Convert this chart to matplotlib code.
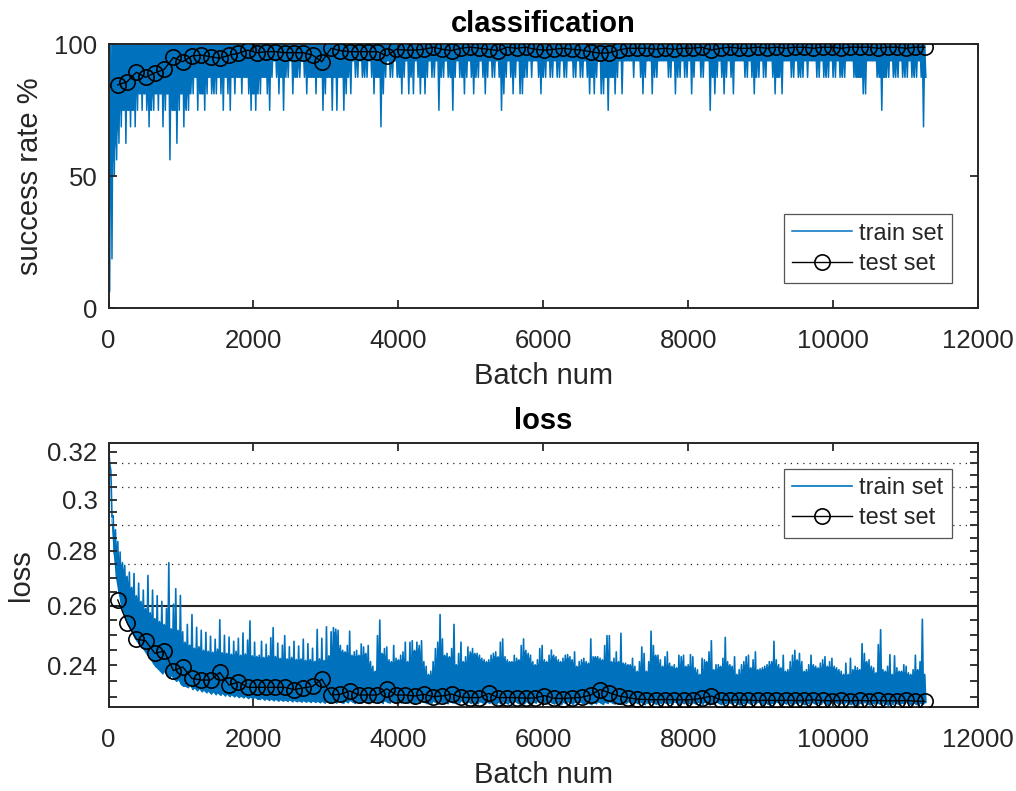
import numpy as np
import matplotlib
matplotlib.use('Agg')
import matplotlib.pyplot as plt
from matplotlib.ticker import FixedLocator, NullFormatter
from numpy.lib.stride_tricks import sliding_window_view

plt.rcParams['font.family'] = ['Liberation Sans', 'DejaVu Sans']

BLUE = '#0072BD'
AXC = '#262626'

# ---- data ----
# train set: per 32-batch bin, the high and the low point of the noisy curve
train_batch = np.arange(0, 11265, 32)

train_acc_high = [50.0] + [100.0] * 352
train_acc_low = [
    6.25, 18.75, 50, 56.25, 62.5, 68.75, 75, 62.5, 75, 68.75, 75, 68.75, 75, 81.25, 75, 81.25,
    75, 68.75, 75, 75, 81.25, 75, 81.25, 68.75, 75, 81.25, 56.25, 75, 75, 62.5, 75, 81.25, 68.75,
    75, 75, 81.25, 81.25, 87.5, 75, 81.25, 81.25, 75, 81.25, 87.5, 81.25, 81.25, 81.25, 87.5, 81.25,
    75, 87.5, 81.25, 75, 87.5, 81.25, 87.5, 87.5, 81.25, 87.5, 87.5, 81.25, 75, 81.25, 75, 81.25,
    81.25, 87.5, 87.5, 81.25, 75, 87.5, 93.75, 87.5, 81.25, 87.5, 75, 87.5, 87.5, 93.75, 81.25, 87.5,
    87.5, 87.5, 93.75, 87.5, 81.25, 87.5, 87.5, 87.5, 81.25, 87.5, 87.5, 75, 81.25, 87.5, 87.5, 75,
    87.5, 75, 87.5, 87.5, 75, 81.25, 87.5, 81.25, 93.75, 87.5, 87.5, 93.75, 87.5, 87.5, 87.5, 93.75,
    87.5, 81.25, 87.5, 87.5, 68.75, 81.25, 87.5, 93.75, 87.5, 87.5, 93.75, 87.5, 87.5, 81.25, 87.5, 93.75,
    81.25, 87.5, 81.25, 93.75, 87.5, 81.25, 87.5, 81.25, 87.5, 93.75, 87.5, 87.5, 93.75, 75, 87.5, 87.5,
    93.75, 87.5, 87.5, 75, 87.5, 93.75, 87.5, 87.5, 81.25, 87.5, 93.75, 87.5, 81.25, 87.5, 87.5, 93.75,
    87.5, 81.25, 87.5, 93.75, 87.5, 87.5, 93.75, 87.5, 75, 81.25, 87.5, 93.75, 87.5, 81.25, 87.5, 93.75,
    81.25, 81.25, 87.5, 87.5, 93.75, 87.5, 93.75, 93.75, 87.5, 81.25, 87.5, 87.5, 93.75, 87.5, 87.5, 93.75,
    87.5, 87.5, 93.75, 87.5, 87.5, 93.75, 93.75, 87.5, 87.5, 93.75, 87.5, 87.5, 93.75, 87.5, 81.25, 87.5,
    81.25, 87.5, 93.75, 81.25, 81.25, 87.5, 75, 87.5, 87.5, 81.25, 87.5, 93.75, 81.25, 93.75, 93.75, 93.75,
    93.75, 87.5, 93.75, 93.75, 87.5, 81.25, 87.5, 93.75, 93.75, 81.25, 87.5, 87.5, 93.75, 93.75, 93.75, 93.75,
    87.5, 87.5, 93.75, 81.25, 87.5, 87.5, 93.75, 87.5, 87.5, 93.75, 81.25, 87.5, 93.75, 93.75, 87.5, 87.5,
    93.75, 93.75, 75, 87.5, 81.25, 87.5, 93.75, 87.5, 81.25, 87.5, 93.75, 87.5, 81.25, 93.75, 93.75, 93.75,
    93.75, 87.5, 87.5, 93.75, 87.5, 81.25, 87.5, 87.5, 93.75, 87.5, 87.5, 93.75, 93.75, 87.5, 81.25, 87.5,
    87.5, 81.25, 93.75, 93.75, 93.75, 87.5, 87.5, 93.75, 87.5, 87.5, 87.5, 93.75, 87.5, 93.75, 93.75, 93.75,
    87.5, 87.5, 93.75, 87.5, 87.5, 87.5, 93.75, 87.5, 87.5, 93.75, 87.5, 87.5, 87.5, 93.75, 93.75, 93.75,
    87.5, 87.5, 87.5, 87.5, 81.25, 81.25, 93.75, 93.75, 93.75, 93.75, 87.5, 87.5, 75, 87.5, 87.5, 87.5,
    93.75, 87.5, 87.5, 87.5, 93.75, 87.5, 87.5, 87.5, 93.75, 87.5, 87.5, 87.5, 93.75, 87.5, 68.75, 87.5,
]

train_loss_high = [
    0.3239, 0.3120, 0.2935, 0.2880, 0.2835, 0.2795, 0.2755, 0.2745, 0.2705, 0.2720, 0.2665,
    0.2715, 0.2635, 0.2680, 0.2615, 0.2655, 0.2590, 0.2708, 0.2575, 0.2655, 0.2555, 0.2635,
    0.2545, 0.2615, 0.2535, 0.2590, 0.2755, 0.2520, 0.2605, 0.2660, 0.2515, 0.2636, 0.2510,
    0.2475, 0.2535, 0.2465, 0.2569, 0.2455, 0.2525, 0.2460, 0.2515, 0.2448, 0.2508, 0.2445, 0.2495,
    0.2442, 0.2485, 0.2452, 0.2551, 0.2440, 0.2498, 0.2438, 0.2492, 0.2435, 0.2478, 0.2445, 0.2488,
    0.2432, 0.2506, 0.2436, 0.2482, 0.2547, 0.2430, 0.2475, 0.2428,
    0.2432, 0.2478, 0.2425, 0.2468, 0.2430, 0.2490, 0.2524, 0.2428, 0.2472, 0.2422, 0.2465, 0.2497,
    0.2420, 0.2460, 0.2425, 0.2478, 0.2418, 0.2462, 0.2420, 0.2485, 0.2415, 0.2470, 0.2418, 0.2455,
    0.2412, 0.2518, 0.2420, 0.2488, 0.2415, 0.2527, 0.2430, 0.2510,
    0.2524, 0.2519, 0.2515, 0.2464, 0.2448, 0.2443, 0.2464, 0.2512, 0.2432, 0.2443, 0.2448, 0.2432,
    0.2469, 0.2459, 0.2438, 0.2464, 0.2411, 0.2396, 0.2380, 0.2497, 0.2550, 0.2438, 0.2454, 0.2459,
    0.2417, 0.2411, 0.2464, 0.2422, 0.2417, 0.2432, 0.2443, 0.2475,
    0.2411, 0.2475, 0.2480, 0.2448, 0.2475, 0.2464, 0.2480, 0.2411, 0.2396, 0.2370, 0.2380, 0.2411,
    0.2454, 0.2475, 0.2569, 0.2486, 0.2432, 0.2438, 0.2427, 0.2454, 0.2535, 0.2401, 0.2438, 0.2475,
    0.2411, 0.2427, 0.2459, 0.2443, 0.2454, 0.2438, 0.2438, 0.2432,
    0.2422, 0.2417, 0.2411, 0.2417, 0.2432, 0.2438, 0.2443, 0.2427, 0.2475, 0.2486, 0.2427, 0.2417,
    0.2411, 0.2411, 0.2432, 0.2422, 0.2417, 0.2464, 0.2486, 0.2448, 0.2438, 0.2432, 0.2411, 0.2401,
    0.2417, 0.2454, 0.2464, 0.2417, 0.2411, 0.2432, 0.2449, 0.2432,
    0.2427, 0.2417, 0.2411, 0.2422, 0.2432, 0.2434, 0.2427, 0.2417, 0.2443, 0.2396, 0.2411, 0.2417,
    0.2422, 0.2411, 0.2406, 0.2486, 0.2427, 0.2427, 0.2427, 0.2422, 0.2417, 0.2464, 0.2497, 0.2497,
    0.2411, 0.2422, 0.2443, 0.2411, 0.2505, 0.2406, 0.2406, 0.2401,
    0.2401, 0.2422, 0.2396, 0.2380, 0.2411, 0.2459, 0.2438, 0.2380, 0.2411, 0.2512, 0.2464, 0.2432,
    0.2432, 0.2417, 0.2396, 0.2427, 0.2443, 0.2406, 0.2396, 0.2401, 0.2391, 0.2432, 0.2427, 0.2432,
    0.2396, 0.2401, 0.2434, 0.2427, 0.2391, 0.2385, 0.2370, 0.2422,
    0.2417, 0.2411, 0.2443, 0.2480, 0.2385, 0.2401, 0.2401, 0.2396, 0.2422, 0.2491, 0.2411, 0.2401,
    0.2396, 0.2427, 0.2370, 0.2385, 0.2401, 0.2411, 0.2427, 0.2432, 0.2391, 0.2417, 0.2443, 0.2385,
    0.2388, 0.2391, 0.2396, 0.2401, 0.2411, 0.2411, 0.2478, 0.2417,
    0.2401, 0.2391, 0.2432, 0.2380, 0.2385, 0.2411, 0.2432, 0.2448, 0.2417, 0.2438, 0.2411, 0.2380,
    0.2385, 0.2401, 0.2432, 0.2401, 0.2396, 0.2391, 0.2406, 0.2417, 0.2427, 0.2396, 0.2411, 0.2422,
    0.2396, 0.2391, 0.2385, 0.2380, 0.2370, 0.2406, 0.2370, 0.2422,
    0.2385, 0.2396, 0.2391, 0.2385, 0.2470, 0.2438, 0.2411, 0.2417, 0.2396, 0.2391, 0.2375, 0.2467,
    0.2517, 0.2385, 0.2380, 0.2396, 0.2434, 0.2370, 0.2430, 0.2391, 0.2380, 0.2380, 0.2401, 0.2396,
    0.2375, 0.2370, 0.2385, 0.2432, 0.2385, 0.2411, 0.2553, 0.2370,
]

train_loss_low = [
    0.3150, 0.2930, 0.2790, 0.2700, 0.2650, 0.2610, 0.2580, 0.2555, 0.2535, 0.2520, 0.2505,
    0.2490, 0.2478, 0.2468, 0.2458, 0.2450, 0.2438, 0.2428, 0.2418, 0.2405, 0.2395, 0.2388,
    0.2380, 0.2372, 0.2378, 0.2366, 0.2360, 0.2365, 0.2355, 0.2348, 0.2352, 0.2338, 0.2332,
    0.2332, 0.2328, 0.2335, 0.2322, 0.2326, 0.2318, 0.2324, 0.2315, 0.2319, 0.2312, 0.2316, 0.2308,
    0.2314, 0.2306, 0.2311, 0.2304, 0.2309, 0.2302, 0.2307, 0.2300, 0.2305, 0.2299, 0.2303, 0.2297,
    0.2301, 0.2296, 0.2300, 0.2294, 0.2298, 0.2293, 0.2297, 0.2292,
    0.2291, 0.2295, 0.2289, 0.2293, 0.2288, 0.2292, 0.2287, 0.2291, 0.2286, 0.2290, 0.2286, 0.2289,
    0.2285, 0.2289, 0.2284, 0.2288, 0.2284, 0.2287, 0.2283, 0.2287, 0.2283, 0.2286, 0.2282, 0.2286,
    0.2282, 0.2285, 0.2281, 0.2285, 0.2280, 0.2284, 0.2280, 0.2283,
    0.2284, 0.2280, 0.2287, 0.2282, 0.2279, 0.2285, 0.2281, 0.2288, 0.2283, 0.2279, 0.2286, 0.2282,
    0.2280, 0.2287, 0.2283, 0.2278, 0.2285, 0.2281, 0.2286, 0.2280, 0.2284, 0.2279, 0.2287, 0.2282,
    0.2280, 0.2285, 0.2281, 0.2278, 0.2284, 0.2280, 0.2286, 0.2282,
    0.2279, 0.2285, 0.2281, 0.2277, 0.2284, 0.2280, 0.2286, 0.2282, 0.2278, 0.2283, 0.2279, 0.2285,
    0.2281, 0.2277, 0.2284, 0.2280, 0.2283, 0.2278, 0.2285, 0.2281, 0.2279, 0.2284, 0.2280, 0.2286,
    0.2281, 0.2277, 0.2283, 0.2279, 0.2285, 0.2280, 0.2278, 0.2284,
    0.2281, 0.2277, 0.2283, 0.2279, 0.2285, 0.2280, 0.2276, 0.2282, 0.2278, 0.2284, 0.2280, 0.2277,
    0.2283, 0.2279, 0.2285, 0.2281, 0.2277, 0.2282, 0.2278, 0.2284, 0.2279, 0.2276, 0.2283, 0.2280,
    0.2285, 0.2281, 0.2277, 0.2282, 0.2278, 0.2284, 0.2280, 0.2277,
    0.2283, 0.2279, 0.2275, 0.2282, 0.2278, 0.2284, 0.2280, 0.2276, 0.2282, 0.2279, 0.2284, 0.2280,
    0.2277, 0.2283, 0.2279, 0.2275, 0.2281, 0.2278, 0.2284, 0.2280, 0.2276, 0.2282, 0.2279, 0.2284,
    0.2280, 0.2277, 0.2283, 0.2278, 0.2275, 0.2281, 0.2279, 0.2284,
    0.2280, 0.2276, 0.2282, 0.2278, 0.2284, 0.2279, 0.2275, 0.2281, 0.2277, 0.2283, 0.2279, 0.2276,
    0.2282, 0.2278, 0.2284, 0.2280, 0.2276, 0.2281, 0.2277, 0.2283, 0.2279, 0.2275, 0.2282, 0.2278,
    0.2284, 0.2280, 0.2276, 0.2281, 0.2277, 0.2283, 0.2279, 0.2276,
    0.2282, 0.2278, 0.2274, 0.2281, 0.2277, 0.2283, 0.2279, 0.2275, 0.2281, 0.2278, 0.2283, 0.2279,
    0.2276, 0.2282, 0.2278, 0.2274, 0.2280, 0.2277, 0.2283, 0.2279, 0.2275, 0.2281, 0.2278, 0.2283,
    0.2279, 0.2276, 0.2282, 0.2277, 0.2274, 0.2280, 0.2278, 0.2283,
    0.2279, 0.2275, 0.2281, 0.2277, 0.2283, 0.2278, 0.2274, 0.2280, 0.2276, 0.2282, 0.2278, 0.2275,
    0.2281, 0.2277, 0.2283, 0.2279, 0.2275, 0.2280, 0.2276, 0.2282, 0.2278, 0.2274, 0.2281, 0.2277,
    0.2283, 0.2279, 0.2275, 0.2280, 0.2276, 0.2282, 0.2278, 0.2275,
    0.2281, 0.2277, 0.2273, 0.2280, 0.2276, 0.2282, 0.2278, 0.2274, 0.2280, 0.2277, 0.2282, 0.2278,
    0.2275, 0.2281, 0.2277, 0.2273, 0.2279, 0.2276, 0.2282, 0.2278, 0.2274, 0.2280, 0.2277, 0.2282,
    0.2278, 0.2275, 0.2281, 0.2276, 0.2273, 0.2279, 0.2277, 0.2282,
]

# test set: evaluated every 128 batches
test_batch = np.arange(128, 11265, 128)
test_acc = [
    84.6, 85.8, 89.4, 87.5, 89.2, 90.5, 95.0, 93.4, 95.6, 95.9, 95.3, 94.7, 95.9, 96.6, 97.8, 96.8,
    97.2, 97.2, 96.8, 96.8, 96.8, 95.9, 93.4, 98.5, 97.6, 97.2, 97.2, 97.2, 97.2, 95.6, 98.1, 97.8,
    97.8, 98.1, 98.9, 98.1, 97.6, 98.5, 98.9, 98.5, 98.1, 97.6, 98.9, 98.5, 98.9, 98.1, 97.8, 98.1,
    98.5, 98.1, 97.8, 97.2, 96.6, 96.8, 97.8, 98.5, 98.5, 98.5, 98.1, 98.5, 98.1, 98.5, 98.5, 98.9,
    97.8, 98.5, 98.9, 98.5, 98.5, 98.9, 98.5, 98.9, 98.5, 98.9, 98.9, 98.5, 98.9, 98.9, 98.5, 98.9,
    98.9, 98.9, 98.5, 98.9, 98.9, 98.5, 98.9, 98.9,
]
test_loss = [
    0.2620, 0.2541, 0.2485, 0.2480, 0.2438, 0.2446, 0.2382, 0.2394, 0.2357, 0.2352, 0.2352,
    0.2376, 0.2336, 0.2346, 0.2329, 0.2329, 0.2329, 0.2329, 0.2329, 0.2322, 0.2327, 0.2332,
    0.2355, 0.2305, 0.2307, 0.2318, 0.2305, 0.2305, 0.2305, 0.2325, 0.2305, 0.2305, 0.2302,
    0.2307, 0.2300, 0.2302, 0.2308, 0.2298, 0.2297, 0.2297, 0.2310, 0.2297, 0.2297, 0.2297,
    0.2295, 0.2296, 0.2303, 0.2295, 0.2294, 0.2296, 0.2298, 0.2305, 0.2322, 0.2312, 0.2302,
    0.2297, 0.2292, 0.2291, 0.2290, 0.2291, 0.2290, 0.2290, 0.2291, 0.2295, 0.2302, 0.2290,
    0.2289, 0.2290, 0.2289, 0.2288, 0.2289, 0.2288, 0.2289, 0.2288, 0.2288, 0.2290, 0.2288,
    0.2287, 0.2288, 0.2287, 0.2288, 0.2287, 0.2288, 0.2287, 0.2287, 0.2288, 0.2286, 0.2285,
]

loss_ticks = [0.24, 0.26, 0.28, 0.30, 0.32]
loss_tick_labels = ['0.24', '0.26', '0.28', '0.3', '0.32']
loss_dotted = [0.315, 0.305, 0.29, 0.275]
loss_solid = 0.26

# the noisy train curve: up to the bin high, down to the bin low, half a bin later
zig_x = np.column_stack([train_batch, train_batch + 16]).ravel()
acc_zig = np.column_stack([train_acc_high, train_acc_low]).ravel()
loss_zig = np.column_stack([train_loss_high, train_loss_low]).ravel()

# where the real curve is so dense that it reads as a solid band
acc_band_low = sliding_window_view(np.pad(train_acc_low, 1, mode='edge'), 3).max(axis=1)
loss_band_top = sliding_window_view(np.pad(train_loss_high, 1, mode='edge'), 3).min(axis=1)

# ---- figure ----
fig = plt.figure(figsize=(10.16, 7.91), dpi=100)
ax1 = fig.add_axes([0.1068, 0.6102, 0.8558, 0.3338])
ax2 = fig.add_axes([0.1068, 0.1066, 0.8558, 0.3338])


def style_axes(ax):
    for s in ax.spines.values():
        s.set_linewidth(1.4)
        s.set_color(AXC)
    ax.tick_params(which='both', direction='in', top=True, right=True,
                   length=6, width=1.3, color=AXC, labelcolor=AXC, labelsize=18.5)
    ax.tick_params(axis='x', pad=15)
    ax.tick_params(axis='y', pad=8)
    ax.set_xlim(0, 12000)
    ax.set_xticks([0, 2000, 4000, 6000, 8000, 10000, 12000])
    ax.set_xlabel('Batch num', fontsize=21, color=AXC)
    ax.xaxis.set_label_coords(0.5, -0.205)


def add_legend(ax, loc, anchor):
    leg = ax.legend(loc=loc, bbox_to_anchor=anchor, bbox_transform=ax.transAxes,
                    borderaxespad=0, fontsize=17, frameon=True, fancybox=False,
                    framealpha=1, edgecolor='#555555', handlelength=2.55,
                    handletextpad=0.3, labelspacing=0.35, borderpad=0.35)
    leg.get_frame().set_linewidth(0.9)
    for t in leg.get_texts():
        t.set_color(AXC)


# classification
ax1.fill_between(train_batch, acc_band_low, train_acc_high, color=BLUE,
                 linewidth=0, zorder=1)
ax1.plot(zig_x, acc_zig, color=BLUE, lw=1.1, label='train set', zorder=1.5)
ax1.plot(test_batch, test_acc, '-o', color='k', mfc='none', ms=11,
         mew=1.2, lw=1.0, label='test set', zorder=3)
style_axes(ax1)
ax1.set_ylim(0, 100)
ax1.set_yticks([0, 50, 100])
ax1.set_ylabel('success rate %', fontsize=21, color=AXC)
ax1.yaxis.set_label_coords(-0.074, 0.5)
ax1.set_title('classification', fontsize=21, fontweight='bold', pad=8.5)
add_legend(ax1, 'lower right', (0.9701, 0.0958))

# loss
ax2.set_yscale('log')
for v in loss_dotted:
    ax2.axhline(v, color=AXC, ls=(0, (1, 4)), lw=0.9, zorder=0.5)
ax2.axhline(loss_solid, color=AXC, lw=1.5, zorder=0.5)
ax2.fill_between(train_batch, train_loss_low, loss_band_top, color=BLUE,
                 linewidth=0, zorder=1)
ax2.plot(zig_x, loss_zig, color=BLUE, lw=1.2, label='train set', zorder=1.5)
ax2.plot(test_batch, test_loss, '-o', color='k', mfc='none', ms=11,
         mew=1.2, lw=1.0, label='test set', zorder=3)
style_axes(ax2)
ax2.set_ylim(0.2269, 0.3239)
ax2.yaxis.set_major_locator(FixedLocator(loss_ticks))
ax2.set_yticklabels(loss_tick_labels)
minor = [round(0.23 + 0.005 * i, 3) for i in range(19)]
ax2.yaxis.set_minor_locator(FixedLocator([m for m in minor if m not in loss_ticks]))
ax2.yaxis.set_minor_formatter(NullFormatter())
ax2.set_ylabel('loss', fontsize=21, color=AXC)
ax2.yaxis.set_label_coords(-0.084, 0.5)
ax2.set_title('loss', fontsize=21, fontweight='bold', pad=9.5)
add_legend(ax2, 'upper right', (0.9701, 0.9004))

fig.savefig('out.png', dpi=100, facecolor='white')
